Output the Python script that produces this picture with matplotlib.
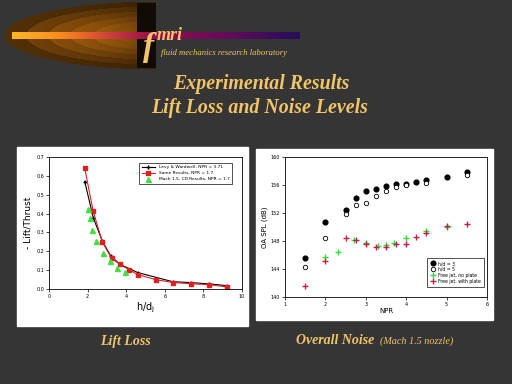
import numpy as np
import matplotlib
matplotlib.use("Agg")
import matplotlib.pyplot as plt
from matplotlib.patches import Rectangle

# ---- lift loss data (h/dj vs -Lift/Thrust)
levy_x = [1.85, 2.3, 2.77, 3.2, 3.67, 4.6, 6.4, 7.35, 8.3, 9.2]
levy_y = [0.57, 0.376, 0.252, 0.175, 0.131, 0.087, 0.039, 0.034, 0.027, 0.018]
same_x = [1.85, 2.29, 2.77, 3.24, 3.67, 4.14, 4.6, 5.53, 6.45, 7.35, 8.28, 9.22]
same_y = [0.642, 0.411, 0.248, 0.163, 0.131, 0.103, 0.076, 0.05, 0.034, 0.028, 0.023, 0.011]
cd_x = [2.0, 2.11, 2.25, 2.44, 2.81, 3.15, 3.54, 3.93]
cd_y = [0.425, 0.379, 0.314, 0.255, 0.191, 0.149, 0.113, 0.09]
lift_labels = ["Levy & Wardwell, NPR = 3.71", "Same Results, NPR = 1.7",
               "Mach 1.5, CD Results, NPR = 1.7"]

# ---- overall noise data (NPR vs OA SPL)
hd3_x = [1.5, 2.0, 2.5, 2.75, 3.0, 3.25, 3.5, 3.75, 4.0, 4.25, 4.5, 5.0, 5.5]
hd3_y = [145.6, 150.7, 152.5, 154.1, 155.1, 155.4, 155.9, 156.1, 156.1, 156.4, 156.7, 157.1, 157.8]
hd5_x = [1.5, 2.0, 2.5, 2.75, 3.0, 3.25, 3.5, 3.75, 4.0, 4.5, 5.5]
hd5_y = [144.3, 148.5, 151.8, 153.1, 153.5, 154.4, 155.2, 155.7, 156.0, 156.3, 157.4]
free_x = [2.0, 2.3, 2.7, 3.0, 3.3, 3.5, 3.7, 4.0, 4.5, 5.0]
free_y = [145.7, 146.5, 148.2, 147.7, 147.3, 147.5, 147.7, 148.5, 149.5, 150.0]
plate_x = [1.5, 2.0, 2.5, 2.75, 3.0, 3.25, 3.5, 3.75, 4.0, 4.25, 4.5, 5.0, 5.5]
plate_y = [141.5, 145.1, 148.5, 148.2, 147.6, 147.2, 147.2, 147.6, 147.6, 148.6, 149.2, 150.2, 150.5]
noise_labels = ["h/d = 3", "h/d = 5", "Free jet, no plate", "Free jet, with plate"]

W, H = 512, 384
BG = "#353535"
GOLD = "#f2c56a"

fig = plt.figure(figsize=(W / 100, H / 100), dpi=100, facecolor=BG)


def frac(x0, y0, x1, y1):
    # pixel box (top-left origin) -> figure fraction rect
    return [x0 / W, 1 - y1 / H, (x1 - x0) / W, (y1 - y0) / H]


# ---- comet decoration in the top-left corner
deco = fig.add_axes(frac(0, 0, 300, 75))
deco.set_axis_off()
xx, yy = np.meshgrid(np.arange(300), np.arange(75))
img = np.zeros((75, 300, 4))
d = np.sqrt(((xx - 158) / 154.0) ** 2 + ((yy - 35) / 34.0) ** 2)
inside = (d < 1) & (xx < 156)
bands = np.ceil((1 - d) * 7) / 7
shade = 0.2 + 0.8 * np.clip(bands * 1.3, 0, 1) * np.clip(1 - xx / 170.0, 0, 1) ** 0.6
orange = np.array([0.95, 0.55, 0.08])
for c in range(3):
    img[..., c] = np.where(inside, orange[c] * shade, 0)
img[..., 3] = np.where(inside, 1.0, 0.0)
# dark right end of the glow
dark = (xx > 136) & (xx < 156) & (np.abs(yy - 35) < 33)
img[dark] = [0.07, 0.04, 0.02, 1.0]
# streak
stops_x = [12, 60, 100, 150, 220, 300]
stops_c = np.array([[1.0, 0.72, 0.15], [0.97, 0.55, 0.12], [0.85, 0.3, 0.2],
                    [0.6, 0.05, 0.3], [0.4, 0.05, 0.35], [0.15, 0.05, 0.35]])
streak = (np.abs(yy - 35) <= 3) & (xx >= 12)
for c in range(3):
    col = np.interp(xx, stops_x, stops_c[:, c])
    img[..., c] = np.where(streak, col, img[..., c])
img[..., 3] = np.where(streak, 1.0, img[..., 3])
deco.imshow(img, interpolation="bilinear", aspect="auto")

fig.text(143 / W, 1 - 56 / H, "f", family="Liberation Serif", style="italic",
         weight="bold", fontsize=24, color=GOLD)
fig.text(157 / W, 1 - 40 / H, "mri", family="Liberation Serif", style="italic",
         weight="bold", fontsize=13, color=GOLD)
fig.text(161 / W, 1 - 55 / H, "fluid mechanics research laboratory",
         family="Liberation Serif", style="italic", fontsize=6.2, color=GOLD)

fig.text(261 / W, 1 - 84 / H, "Experimental Results", family="Liberation Serif",
         style="italic", weight="bold", fontsize=14.3, color=GOLD, ha="center", va="center")
fig.text(260 / W, 1 - 108 / H, "Lift Loss and Noise Levels", family="Liberation Serif",
         style="italic", weight="bold", fontsize=14.3, color=GOLD, ha="center", va="center")

# white panels behind the charts
fig.patches.append(Rectangle((17 / W, 1 - 326 / H), 231 / W, 179 / H,
                             transform=fig.transFigure, color="white", zorder=-5))
fig.patches.append(Rectangle((256 / W, 1 - 320 / H), 237 / W, 171 / H,
                             transform=fig.transFigure, color="white", zorder=-5))

# ---- left chart: lift loss
ax1 = fig.add_axes(frac(49, 157, 242, 289))
ax1.plot(levy_x, levy_y, "-", color="black", lw=0.8, marker="+", ms=3.5, mew=1,
         label=lift_labels[0])
ax1.plot(same_x, same_y, "-", color="#e02020", lw=0.8, marker="s", ms=3.2,
         label=lift_labels[1])
ax1.plot(cd_x, cd_y, "^", color="#3fe03f", ms=3.6, lw=0, label=lift_labels[2])
ax1.set_xlim(0, 10)
ax1.set_ylim(0, 0.7)
ax1.set_xticks(np.arange(0, 11, 2))
ax1.set_yticks(np.arange(0, 0.71, 0.1))
ax1.set_xticklabels([f"{v:d}" for v in range(0, 11, 2)])
ax1.set_yticklabels([f"{v:.1f}" for v in np.arange(0, 0.71, 0.1)])
ax1.tick_params(labelsize=3.5, length=2, width=0.5, pad=1.5)
for s in ax1.spines.values():
    s.set_linewidth(0.6)
ax1.set_xlabel("h/d$_\\mathregular{j}$", fontsize=7, labelpad=1)
ax1.set_ylabel("- Lift/Thrust", fontsize=6.5, labelpad=3)
leg = ax1.legend(loc="upper right", bbox_to_anchor=(0.96, 0.975), fontsize=3.2,
                 frameon=True, fancybox=False, edgecolor="black", handlelength=3,
                 borderpad=0.6, labelspacing=0.4, handletextpad=0.8)
leg.get_frame().set_linewidth(0.6)

# ---- right chart: overall noise
ax2 = fig.add_axes(frac(285, 157, 487, 297))
ax2.plot(hd3_x, hd3_y, "o", color="black", ms=3.4, lw=0, label=noise_labels[0])
ax2.plot(hd5_x, hd5_y, "o", mfc="white", mec="black", mew=0.6, ms=3.2, lw=0,
         label=noise_labels[1])
ax2.plot(free_x, free_y, "+", color="#33dd33", ms=3.8, mew=1.0, lw=0, label=noise_labels[2])
ax2.plot(plate_x, plate_y, "+", color="#c0204a", ms=3.8, mew=1.0, lw=0, label=noise_labels[3])
ax2.set_xlim(1, 6)
ax2.set_ylim(140, 160)
ax2.set_xticks(range(1, 7))
ax2.set_yticks(range(140, 161, 4))
ax2.tick_params(labelsize=3.5, length=2, width=0.5, pad=1.5)
for s in ax2.spines.values():
    s.set_linewidth(0.6)
ax2.set_xlabel("NPR", fontsize=5, labelpad=1)
ax2.set_ylabel("OA SPL (dB)", fontsize=5, labelpad=2)
leg2 = ax2.legend(loc="upper right", bbox_to_anchor=(0.995, 0.293), fontsize=3.3,
                  frameon=True, fancybox=False, edgecolor="black", handlelength=1.2,
                  borderpad=0.6, labelspacing=0.2, handletextpad=0.6)
leg2.get_frame().set_linewidth(0.6)

# captions
fig.text(125 / W, 1 - 341 / H, "Lift Loss", family="Liberation Serif", style="italic",
         weight="bold", fontsize=10, color=GOLD, ha="center", va="center")
fig.text(296 / W, 1 - 340 / H, "Overall Noise", family="Liberation Serif", style="italic",
         weight="bold", fontsize=10, color=GOLD, ha="left", va="center")
fig.text(380 / W, 1 - 341 / H, "(Mach 1.5 nozzle)", family="Liberation Serif",
         style="italic", fontsize=7.3, color=GOLD, ha="left", va="center")

fig.savefig("out.png", dpi=100, facecolor=BG)
